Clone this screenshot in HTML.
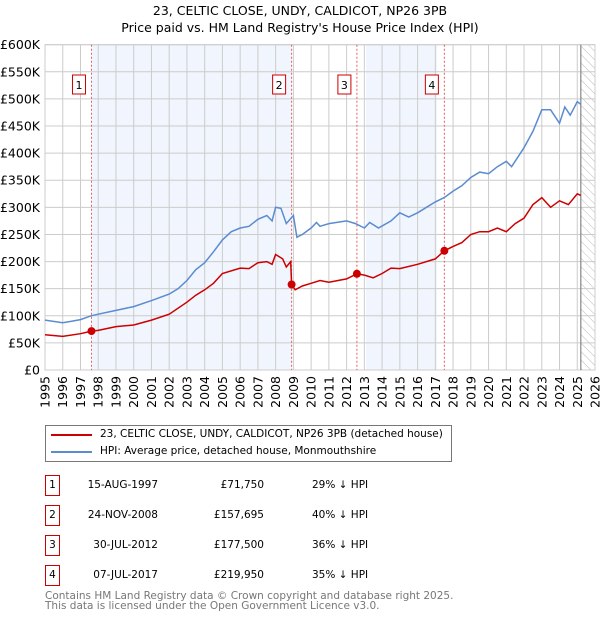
<!DOCTYPE html>
<html><head><meta charset="utf-8"><style>
body{margin:0;background:#fff;font-family:"DejaVu Sans","Liberation Sans",sans-serif;}
#wrap{position:relative;width:600px;height:620px;overflow:hidden}
.t{position:absolute;font-size:10.5px;color:#000;white-space:nowrap}
.box{position:absolute;width:13px;height:19px;border:1px solid #c00;font-size:10.5px;text-align:center;line-height:19px;background:#fff}
</style></head><body><div id="wrap">
<div class="t" style="left:0;width:600px;text-align:center;top:3px;font-size:12.5px">23, CELTIC CLOSE, UNDY, CALDICOT, NP26 3PB</div>
<div class="t" style="left:0;width:600px;text-align:center;top:20px;font-size:12.5px">Price paid vs. HM Land Registry's House Price Index (HPI)</div>
<svg id="plot" width="600" height="420" style="position:absolute;left:0;top:0"></svg>
<div style="position:absolute;left:45px;top:425px;width:405px;height:35px;border:1px solid #777">
<div style="position:absolute;left:5px;top:8px;width:41px;height:2px;background:#c00"></div>
<div class="t" style="left:54px;top:2px">23, CELTIC CLOSE, UNDY, CALDICOT, NP26 3PB (detached house)</div>
<div style="position:absolute;left:5px;top:25px;width:41px;height:2px;background:#5b8bd0"></div>
<div class="t" style="left:54px;top:19px">HPI: Average price, detached house, Monmouthshire</div>
</div>
<div id="table"></div>
<div class="t" style="left:45px;top:590px;color:#777">Contains HM Land Registry data © Crown copyright and database right 2025.</div>
<div class="t" style="left:45px;top:600px;color:#777">This data is licensed under the Open Government Licence v3.0.</div>
</div>
<script>
const hpiYears=[1995,1996,1996.5,1997,1997.6,1998,1999,2000,2001,2002,2002.5,2003,2003.5,2004,2004.5,2005,2005.5,2006,2006.5,2007,2007.5,2007.8,2008,2008.3,2008.6,2009,2009.2,2009.5,2010,2010.3,2010.5,2011,2012,2012.5,2013,2013.3,2013.8,2014.5,2015,2015.5,2016,2016.5,2017,2017.5,2018,2018.5,2019,2019.5,2020,2020.5,2021,2021.3,2021.7,2022,2022.5,2023,2023.5,2024,2024.3,2024.6,2025,2025.2];
const hpiValues=[92,87,90,93,100,103,110,117,128,140,150,165,185,198,218,240,255,262,265,278,285,275,300,298,270,285,245,250,262,272,265,270,275,270,262,272,262,275,290,282,290,300,310,318,330,340,355,365,362,375,385,375,395,410,440,480,480,455,485,470,495,490];
const ppYears=[1995,1996,1997,1997.62,1998,1999,2000,2001,2002,2003,2003.5,2004,2004.5,2005,2006,2006.5,2007,2007.5,2007.8,2008,2008.4,2008.6,2008.85,2008.9,2009.1,2009.5,2010,2010.5,2011,2012,2012.58,2013,2013.5,2014,2014.5,2015,2016,2017,2017.51,2018,2018.5,2019,2019.5,2020,2020.5,2021,2021.5,2022,2022.5,2023,2023.5,2024,2024.5,2025,2025.2];
const ppValues=[65,62,67,71.75,73,80,83,92,103,125,138,148,160,178,188,187,198,200,195,213,205,190,200,157.7,148,155,160,165,162,168,177.5,175,170,178,188,187,195,205,219.95,228,235,250,255,255,262,255,270,280,305,318,300,312,305,325,322];
const saleIds=["1","2","3","4"];
const saleYears=[1997.62,2008.9,2012.58,2017.51];
const saleValues=[71.75,157.695,177.5,219.95];
const saleDates=["15-AUG-1997","24-NOV-2008","30-JUL-2012","07-JUL-2017"];
const salePrices=["£71,750","£157,695","£177,500","£219,950"];
const salePct=["29% ↓ HPI","40% ↓ HPI","36% ↓ HPI","35% ↓ HPI"];
const yTicks=[0,50,100,150,200,250,300,350,400,450,500,550,600];
const yTickLabels=["£0","£50K","£100K","£150K","£200K","£250K","£300K","£350K","£400K","£450K","£500K","£550K","£600K"];
const xTicks=[1995,1996,1997,1998,1999,2000,2001,2002,2003,2004,2005,2006,2007,2008,2009,2010,2011,2012,2013,2014,2015,2016,2017,2018,2019,2020,2021,2022,2023,2024,2025,2026];
const L=45,R=595,T=44.7,B=370,X0=1995,X1=2026,YMAX=600;
const x=v=>L+(v-X0)/(X1-X0)*(R-L);
const y=v=>B-v/YMAX*(B-T);
const NS="http://www.w3.org/2000/svg";
const svg=document.getElementById('plot');
function mk(tag,attrs,parent){const e=document.createElementNS(NS,tag);for(const k in attrs)e.setAttribute(k,attrs[k]);(parent||svg).appendChild(e);return e;}
const defs=mk('defs',{});
const pat=mk('pattern',{id:'hatch',width:6,height:6,patternUnits:'userSpaceOnUse',patternTransform:'rotate(-45)'},defs);
mk('line',{x1:0,y1:0,x2:0,y2:6,stroke:'#bbb','stroke-width':1},pat);
let s;
s=mk('rect',{x:x(saleYears[0]),y:T,width:x(saleYears[1])-x(saleYears[0]),height:B-T,fill:'#eef3fc',opacity:0.8});

s=mk('rect',{x:x(2013.1),y:T,width:x(2017.1)-x(2013.1),height:B-T,fill:'#eef3fc',opacity:0.8});

s=mk('rect',{x:x(2025.2),y:T,width:R-x(2025.2),height:B-T,fill:'url(#hatch)'});

yTicks.forEach((v,i)=>{
 const g=mk('line',{x1:L,x2:R,y1:y(v),y2:y(v),stroke:'#ccc','stroke-width':1});
 
 const t=mk('text',{x:40,y:y(v)+4.5,'text-anchor':'end','font-size':12.5,fill:'#000'});t.textContent=yTickLabels[i];
 
});
xTicks.forEach(v=>{
 const g=mk('line',{x1:x(v),x2:x(v),y1:T,y2:B,stroke:'#ccc','stroke-width':1});
 
 const t=mk('text',{transform:`translate(${x(v)+4.5},${B+6}) rotate(-90)`,'text-anchor':'end','font-size':12.5,fill:'#000'});t.textContent=v;
 
});
s=mk('rect',{x:L,y:T,width:R-L,height:B-T,fill:'none',stroke:'#ccc'});

s=mk('line',{x1:x(2025.2),x2:x(2025.2),y1:T,y2:B,stroke:'#888','stroke-width':1.2});

saleYears.forEach((v,i)=>{
 const l=mk('line',{x1:x(v),x2:x(v),y1:T,y2:B,stroke:'#e06060','stroke-width':1,'stroke-dasharray':'2,2'});
 
 const r=mk('rect',{x:x(v)-19,y:75,width:13,height:19,fill:'#fff',stroke:'#c00'});
 
 const t=mk('text',{x:x(v)-12.5,y:89,'text-anchor':'middle','font-size':11,fill:'#000'});t.textContent=saleIds[i];
 
});
function path(xs,vs){return xs.map((v,i)=>(i?'L':'M')+x(v).toFixed(1)+','+y(vs[i]).toFixed(1)).join('');}
s=mk('path',{d:path(hpiYears,hpiValues),fill:'none',stroke:'#5b8bd0','stroke-width':1.5});

s=mk('path',{d:path(ppYears,ppValues),fill:'none',stroke:'#c00','stroke-width':1.5});

saleYears.forEach((v,i)=>{
 const c=mk('circle',{cx:x(v),cy:y(saleValues[i]),r:4,fill:'#c00'});
 
});
const tb=document.getElementById('table');
saleIds.forEach((id,i)=>{
 const top=475+i*30;
 const row=document.createElement('div');
 
 
 row.innerHTML=`<div class="box" style="left:45px;top:${top}px">${id}</div>
 <div class="t" style="left:60px;width:98px;text-align:right;top:${top+4}px">${saleDates[i]}</div>
 <div class="t" style="left:180px;width:84px;text-align:right;top:${top+4}px">${salePrices[i]}</div>
 <div class="t" style="left:312px;top:${top+4}px">${salePct[i]}</div>`;
 tb.appendChild(row);
});
</script></body></html>
